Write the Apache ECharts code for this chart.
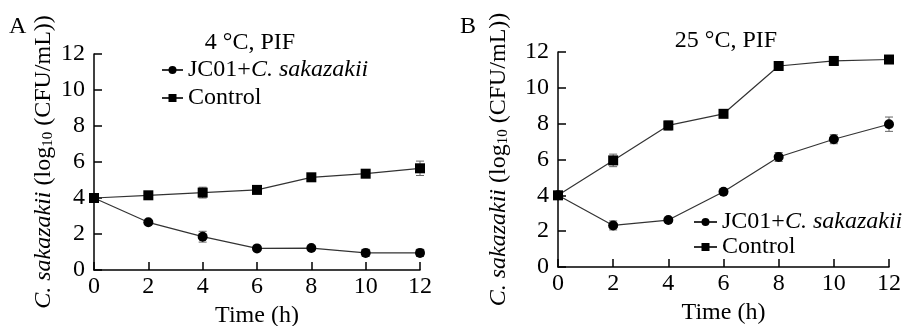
<!DOCTYPE html>
<html>
<head>
<meta charset="utf-8">
<script src="https://cdn.jsdelivr.net/npm/echarts@6/dist/echarts.min.js"></script>
<style>
  html, body { margin: 0; padding: 0; background: #fff; }
  #chart { width: 904px; height: 326px; }
</style>
</head>
<body>
<div id="chart"></div>
<script>
// data (log10 CFU/mL)
const hours = [0, 2, 4, 6, 8, 10, 12];
const xTicks = [0, 2, 4, 6, 8, 10, 12];
const yTicks = [0, 2, 4, 6, 8, 10, 12];

const jc4 = [4.0, 2.65, 1.85, 1.2, 1.22, 0.95, 0.95];
const ctrl4 = [4.0, 4.15, 4.3, 4.45, 5.15, 5.35, 5.65];
const jc4Err = [0.05, 0.1, 0.3, 0.1, 0.1, 0.2, 0.2];
const ctrl4Err = [0.1, 0.15, 0.3, 0.15, 0.15, 0.2, 0.4];

const jc25 = [4.0, 2.32, 2.62, 4.2, 6.14, 7.13, 7.97];
const ctrl25 = [4.0, 5.95, 7.9, 8.55, 11.22, 11.5, 11.58];
const jc25Err = [0.1, 0.25, 0.1, 0.15, 0.25, 0.25, 0.4];
const ctrl25Err = [0.1, 0.35, 0.25, 0.1, 0.1, 0.25, 0.15];

const JC = "JC01+C. sakazakii";
const CTRL = "Control";
const FONT = "Liberation Serif";
const FS = 24;

const chart = echarts.init(document.getElementById("chart"));

function pairs(ys) {
  return hours.map((h, i) => [h, ys[i]]);
}
function errData(ys, errs) {
  return hours.map((h, i) => [h, ys[i] - errs[i], ys[i] + errs[i]]);
}
function errRender(params, api) {
  const x = api.value(0);
  const top = api.coord([x, api.value(2)]);
  const bot = api.coord([x, api.value(1)]);
  const w = 4;
  const st = { stroke: "#666", lineWidth: 1 };
  return {
    type: "group",
    children: [
      { type: "line", shape: { x1: top[0], y1: top[1], x2: bot[0], y2: bot[1] }, style: st },
      { type: "line", shape: { x1: top[0] - w, y1: top[1], x2: top[0] + w, y2: top[1] }, style: st },
      { type: "line", shape: { x1: bot[0] - w, y1: bot[1], x2: bot[0] + w, y2: bot[1] }, style: st },
    ],
  };
}

function xAxis(idx) {
  return {
    type: "value", gridIndex: idx, min: 0, max: 12, interval: 2,
    name: "Time (h)", nameLocation: "middle", nameGap: 28,
    nameTextStyle: { fontFamily: FONT, fontSize: FS, color: "#000" },
    axisLine: { lineStyle: { color: "#000", width: 1.5 } },
    axisTick: { inside: true, length: 8, lineStyle: { color: "#000", width: 1.5 } },
    axisLabel: { fontFamily: FONT, fontSize: FS, color: "#000", margin: 5,
      formatter: (v) => (xTicks.includes(v) ? String(v) : "") },
    splitLine: { show: false },
  };
}
function yAxis(idx, gap) {
  return {
    type: "value", gridIndex: idx, min: 0, max: 12, interval: 2,
    name: "{i|C. sakazakii} {n|(log}{s|10}{n| (CFU/mL))}",
    nameLocation: "middle", nameGap: gap, nameRotate: 90,
    nameTextStyle: {
      fontFamily: FONT, fontSize: FS, color: "#000",
      rich: {
        i: { fontFamily: FONT, fontSize: FS, fontStyle: "italic", color: "#000" },
        n: { fontFamily: FONT, fontSize: FS, color: "#000" },
        s: { fontFamily: FONT, fontSize: 15, color: "#000", verticalAlign: "bottom" },
      },
    },
    axisLine: { lineStyle: { color: "#000", width: 1.5 } },
    axisTick: { inside: true, length: 8, lineStyle: { color: "#000", width: 1.5 } },
    axisLabel: { fontFamily: FONT, fontSize: FS, color: "#000", margin: 9,
      formatter: (v) => (yTicks.includes(v) ? String(v) : "") },
    splitLine: { show: false },
  };
}
function lineSeries(name, idx, ys, symbol, size) {
  return {
    name: name, type: "line", xAxisIndex: idx, yAxisIndex: idx,
    data: pairs(ys), symbol: symbol, symbolSize: size, z: 3,
    lineStyle: { color: "#333", width: 1.2 },
    itemStyle: { color: "#000" },
  };
}
function errSeries(idx, ys, errs) {
  return {
    type: "custom", xAxisIndex: idx, yAxisIndex: idx, z: 2,
    renderItem: errRender, data: errData(ys, errs),
    encode: { x: 0, y: [1, 2] }, silent: true,
  };
}
function legend(left, top, gap, w) {
  return {
    data: [JC, CTRL], orient: "vertical", left: left, top: top, padding: 0,
    itemGap: gap, itemWidth: w, itemHeight: 10, selectedMode: false,
    formatter: (n) => (n === JC ? "{n|JC01+}{i|C. sakazakii}" : "{n|Control}"),
    textStyle: {
      fontFamily: FONT, fontSize: FS, color: "#000",
      rich: {
        n: { fontFamily: FONT, fontSize: FS, color: "#000" },
        i: { fontFamily: FONT, fontSize: FS, fontStyle: "italic", color: "#000" },
      },
    },
  };
}

const titleStyle = { fontFamily: FONT, fontSize: FS, fontWeight: "normal", color: "#000" };

const options = {
  animation: false,
  backgroundColor: "#fff",
  textStyle: { fontFamily: FONT, fontSize: FS, color: "#000" },
  title: [
    { text: "4 °C, PIF", left: 245, top: 26, textAlign: "center", textStyle: titleStyle },
    { text: "25 °C, PIF", left: 721, top: 24, textAlign: "center", textStyle: titleStyle },
    { text: "A", left: 4, top: 10, textStyle: titleStyle },
    { text: "B", left: 455, top: 10, textStyle: titleStyle },
  ],
  legend: [legend(161, 58, 4, 21), legend(693, 210, 1, 23)],
  grid: [
    { left: 94, top: 54, width: 326, height: 216, outerBoundsMode: "none" },
    { left: 558, top: 52, width: 331, height: 215, outerBoundsMode: "none" },
  ],
  xAxis: [xAxis(0), xAxis(1)],
  yAxis: [yAxis(0, 38), yAxis(1, 47)],
  series: [
    errSeries(0, jc4, jc4Err),
    errSeries(0, ctrl4, ctrl4Err),
    lineSeries(JC, 0, jc4, "circle", 10),
    lineSeries(CTRL, 0, ctrl4, "rect", 10),
    errSeries(1, jc25, jc25Err),
    errSeries(1, ctrl25, ctrl25Err),
    lineSeries(JC, 1, jc25, "circle", 10),
    lineSeries(CTRL, 1, ctrl25, "rect", 10),
  ],
};
chart.setOption(options);
</script>
</body>
</html>
